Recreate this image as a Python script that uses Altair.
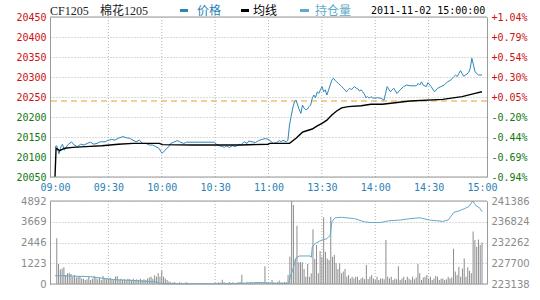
import altair as alt
import pandas as pd

# ---------------- data ----------------
time_ticks = [0, 30, 60, 90, 120, 150, 180, 210, 240]
time_labels = ["09:00", "09:30", "10:00", "10:30", "11:00", "13:30", "14:00", "14:30", "15:00"]

price_ticks = [20050, 20100, 20150, 20200, 20250, 20300, 20350, 20400, 20450]
base_price = 20240

vol_ticks = [0, 1223, 2446, 3669, 4892]
oi_ticks = [223138, 227700, 232262, 236824, 241386]

price_t = [0, 1, 2.2, 3.3, 4.2, 5.3, 7.1, 9.3, 10.8, 12.6,
           14.4, 16.3, 18.1, 19.9, 21.8, 23.6, 25.4, 28.2, 30.0, 31.9,
           33.7, 35.5, 38.3, 40.1, 41.9, 43.8, 45.6, 47.4, 49.3, 51.1,
           52.9, 54.8, 56.6, 58.4, 60.2, 62.1, 63.9, 65.0, 66.8, 68.7,
           70.5, 72.3, 74.1, 89.7, 90.6, 92.4, 94.3, 95.2, 96.1, 97.9,
           99.8, 101.6, 103.4, 104.4, 106.2, 108.0, 108.9, 110.8, 112.6, 114.4,
           116.3, 118.1, 119.9, 120.8, 122.6, 124.5, 126.3, 127.2, 128.1, 129.1,
           130.0, 130.9, 131.8, 132.7, 133.6, 134.6, 135.5, 136.4, 137.3, 138.2,
           139.1, 140.0, 141.0, 141.9, 142.8, 143.7, 144.6, 145.5, 146.4, 147.4,
           148.3, 149.2, 150.1, 151.0, 151.9, 152.8, 153.8, 154.7, 155.6, 156.5,
           157.4, 158.3, 159.3, 160.2, 161.1, 162.0, 162.9, 163.8, 164.8, 165.7,
           166.6, 167.5, 168.4, 169.3, 170.3, 171.2, 172.1, 173.0, 173.9, 174.8,
           175.7, 176.7, 177.6, 178.5, 179.4, 181.2, 183.1, 184.9, 185.8, 186.7,
           188.5, 190.4, 192.2, 194.0, 195.9, 197.7, 199.5, 203.2, 204.1, 205.0,
           206.0, 206.9, 208.7, 209.6, 211.4, 213.3, 215.1, 216.9, 218.8, 220.6,
           222.4, 224.2, 225.2, 226.1, 227.0, 227.9, 228.8, 229.7, 230.7, 232.5,
           233.4, 234.3, 235.2, 236.1, 238.0, 240.0]
price_v = [20125, 20128, 20108, 20125, 20132, 20117, 20130, 20138, 20130, 20126,
           20132, 20130, 20134, 20137, 20132, 20134, 20138, 20138, 20142, 20144,
           20142, 20147, 20151, 20148, 20147, 20142, 20138, 20142, 20134, 20134,
           20130, 20130, 20126, 20122, 20109, 20118, 20126, 20134, 20137, 20141,
           20137, 20134, 20137, 20137, 20132, 20128, 20126, 20124, 20128, 20124,
           20128, 20126, 20132, 20130, 20138, 20134, 20140, 20138, 20136, 20141,
           20144, 20146, 20144, 20141, 20134, 20136, 20141, 20138, 20142, 20140,
           20138, 20142, 20180, 20201, 20222, 20238, 20242, 20230, 20218, 20209,
           20230, 20222, 20218, 20220, 20226, 20230, 20247, 20255, 20248, 20263,
           20259, 20268, 20276, 20263, 20268, 20255, 20268, 20280, 20292, 20297,
           20292, 20288, 20284, 20280, 20276, 20272, 20268, 20263, 20268, 20272,
           20268, 20273, 20276, 20272, 20270, 20265, 20268, 20263, 20257, 20248,
           20251, 20247, 20251, 20248, 20247, 20248, 20247, 20242, 20259, 20276,
           20263, 20272, 20259, 20268, 20276, 20280, 20278, 20278, 20284, 20280,
           20288, 20280, 20276, 20286, 20276, 20263, 20272, 20276, 20280, 20288,
           20292, 20301, 20305, 20301, 20309, 20316, 20309, 20302, 20305, 20311,
           20322, 20347, 20330, 20313, 20305, 20305]

avg_t = [0, 0.6, 2.6, 5.5, 9.9, 17.2, 26.4, 35.5, 43.9, 58.6,
         60.4, 76.9, 89.5, 104.4, 119.7, 120.8, 131.8, 135.5, 139.1, 141.0,
         144.6, 147.4, 150.1, 152.8, 155.6, 158.3, 161.1, 164.8, 172.1, 177.6,
         184.0, 199.5, 217.9, 228.8, 236.1, 240.0]
avg_v = [20050, 20122, 20116, 20122, 20124, 20126, 20128, 20132, 20134, 20134,
         20131, 20130, 20130, 20130, 20132, 20134, 20134, 20147, 20162, 20165,
         20170, 20178, 20184, 20192, 20205, 20215, 20223, 20226, 20228, 20232,
         20232, 20240, 20244, 20251, 20259, 20263]

oi_t = [0, 4, 20, 33, 45, 53, 57, 58.5, 60, 80,
        100, 105, 115, 125, 131.4, 132.3, 133.6, 135.5, 137.3, 143.4,
        144.1, 144.6, 146.4, 150, 152.8, 154.7, 155.6, 157.4, 161, 168.4,
        173.9, 177.6, 183, 187, 194, 199.5, 205, 210.4, 218, 221,
        224.2, 227, 230.7, 232.8, 234.8, 236.7, 238.5, 240]
oi_v = [224960, 224960, 224740, 224100, 223900, 223650, 223600, 223300, 223180, 223180,
        223200, 223300, 223450, 223250, 223300, 224900, 226200, 228800, 229300, 229300,
        229000, 231300, 232100, 232800, 233100, 233900, 236800, 237700, 237800, 237500,
        236800, 236650, 236650, 237000, 237200, 237500, 237700, 237200, 236900, 237200,
        238900, 239200, 239800, 240200, 241386, 240300, 239950, 239050]

volume = [0, 2690, 1180, 860, 920, 980, 530, 630, 670, 590,
          430, 530, 390, 430, 470, 330, 310, 240, 280, 430,
          240, 310, 470, 390, 280, 390, 240, 470, 330, 280,
          310, 370, 240, 280, 430, 470, 240, 310, 240, 280,
          240, 310, 280, 200, 310, 240, 280, 240, 310, 240,
          280, 240, 330, 390, 430, 310, 510, 430, 630, 430,
          790, 430, 330, 240, 140, 100, 80, 120, 80, 60,
          100, 80, 60, 80, 100, 40, 40, 20, 40, 40,
          20, 40, 40, 20, 40, 20, 40, 40, 20, 40,
          80, 60, 100, 80, 250, 100, 80, 60, 120, 80,
          100, 60, 80, 100, 120, 550, 80, 60, 100, 80,
          120, 60, 80, 100, 120, 80, 100, 80, 1040, 100,
          120, 80, 240, 100, 80, 120, 200, 100, 80, 120,
          100, 530, 1600, 4892, 4650, 1500, 3430, 1280, 1280, 1280,
          880, 430, 1180, 430, 630, 3220, 1470, 2300, 630, 1940,
          1610, 3930, 1900, 1510, 1410, 3970, 1610, 1710, 1220, 880,
          1220, 630, 730, 880, 430, 530, 330, 430, 330, 430,
          430, 240, 330, 390, 280, 1120, 300, 430, 530, 330,
          240, 430, 240, 330, 330, 280, 2590, 430, 330, 430,
          240, 330, 280, 1040, 240, 330, 430, 240, 430, 330,
          240, 430, 280, 390, 1180, 630, 240, 390, 430, 530,
          330, 430, 240, 330, 470, 430, 240, 310, 330, 240,
          280, 430, 330, 390, 2080, 730, 530, 1020, 430, 920,
          1510, 430, 980, 780, 630, 3090, 2600, 2200, 2630, 2300,
          2450]

# ---------------- layout / style ----------------
W, H = 437, 267          # whole drawing area (both panels)
PH = 160                 # price panel height
VT, VB = 184, 267        # volume panel top / bottom
RED, GREEN = "#cc1111", "#117711"
C_PRICE, C_OI = "#2e86b8", "#63aac8"
GRID = "#b4b4b4"
FRAME = "#9a9a9a"
MONO = "DejaVu Sans Mono"
SANS = "DejaVu Sans"

price_df = pd.DataFrame({"t": price_t, "v": price_v})
avg_df = pd.DataFrame({"t": avg_t, "v": avg_v})
oi_df = pd.DataFrame({"t": oi_t, "oi": oi_v})
vol_df = pd.DataFrame({"t": list(range(len(volume))), "vol": volume})
grid_df = pd.DataFrame({"t": time_ticks[1:-1]})
one = pd.DataFrame({"a": [0]})

label_arr = "[" + ",".join(f"'{s}'" for s in time_labels) + "]"
X = alt.X("t:Q",
          scale=alt.Scale(domain=[0, 240], nice=False, zero=False),
          axis=alt.Axis(values=time_ticks, labelExpr=f"{label_arr}[round(datum.value/30)]",
                        orient="bottom", offset=-(H - PH), domain=False, ticks=False,
                        tickSize=0, grid=False, labelPadding=5, labelFont=MONO,
                        labelFontSize=10, labelColor="#2a7fb5", labelFlush=False,
                        labelOverlap=False, title=None))

price_scale = alt.Scale(domain=[20050, 20450], range=[PH, 0], nice=False, zero=False)
color_cond = {"condition": {"test": f"datum.value > {base_price}", "value": RED}, "value": GREEN}

left_price_axis = alt.Axis(orient="left", values=price_ticks, format="d", grid=True, gridColor=GRID,
                           gridDash=[1, 2], domain=True, domainColor=FRAME, ticks=False,
                           labelFont=MONO, labelFontSize=10, labelColor=color_cond,
                           labelPadding=4, labelOverlap=False, labelFlush=False, title=None)
pct_expr = (f"(datum.value < {base_price} ? '-' : '+') + "
            f"format(abs(datum.value / {base_price} - 1) * 100, '.2f') + '%'")
right_pct_axis = alt.Axis(orient="right", values=price_ticks, labelExpr=pct_expr, grid=False,
                          domain=True, domainColor=FRAME, ticks=False, labelFont=MONO,
                          labelFontSize=10, labelColor=color_cond, labelPadding=4,
                          labelOverlap=False, labelFlush=False, title=None)

vol_axis = alt.Axis(orient="left", values=vol_ticks, format="d", grid=True, gridColor=GRID,
                    gridDash=[1, 2], domain=True, domainColor=FRAME, ticks=False, labelFont=SANS,
                    labelFontSize=10, labelColor="#8a8a8a", labelPadding=4,
                    labelOverlap=False, labelFlush=False, title=None)
oi_axis = alt.Axis(orient="right", values=oi_ticks, format="d", grid=False, domain=True,
                   domainColor=FRAME, ticks=False, labelFont=SANS, labelFontSize=10,
                   labelColor="#8a8a8a", labelPadding=4, labelOverlap=False,
                   labelFlush=False, title=None)

# ---------------- layers ----------------
vgrid_top = alt.Chart(grid_df).mark_rule(color=GRID, strokeDash=[1, 2]).encode(
    x=X, y=alt.value(0), y2=alt.value(PH))
vgrid_bot = alt.Chart(grid_df).mark_rule(color=GRID, strokeDash=[1, 2]).encode(
    x=X, y=alt.value(VT), y2=alt.value(VB))

base_rule = alt.Chart(pd.DataFrame({"b": [base_price]})).mark_rule(
    color="#e3a030", strokeDash=[6, 4], strokeWidth=1).encode(
    y=alt.Y("b:Q", scale=price_scale, axis=right_pct_axis))

price_line = alt.Chart(price_df).mark_line(color=C_PRICE, strokeWidth=1).encode(
    x=X, y=alt.Y("v:Q", scale=price_scale, axis=left_price_axis))
avg_line = alt.Chart(avg_df).mark_line(color="#000000", strokeWidth=1.4).encode(
    x=X, y=alt.Y("v:Q", scale=price_scale, axis=None))

vol_bars = alt.Chart(vol_df).mark_bar(size=1, color="#8c8c8c").encode(
    x=X, y=alt.Y("vol:Q", scale=alt.Scale(domain=[0, 4892], range=[VB, VT], nice=False, zero=True),
                 axis=vol_axis))
oi_line = alt.Chart(oi_df).mark_line(color=C_OI, strokeWidth=1).encode(
    x=X, y=alt.Y("oi:Q", scale=alt.Scale(domain=[223138, 241386], range=[VB, VT], nice=False,
                                         zero=False), axis=oi_axis))


def hline(yv):
    return alt.Chart(one).mark_rule(color=FRAME, strokeWidth=1).encode(
        x=alt.value(0), x2=alt.value(W), y=alt.value(yv))


def txt(text, xv, color, font, size, yv=-6):
    return alt.Chart(one).mark_text(text=text, align="left", baseline="middle", font=font,
                                    fontSize=size, color=color).encode(
        x=alt.value(xv), y=alt.value(yv))


def dash(x1, x2, color):
    return alt.Chart(one).mark_rule(color=color, strokeWidth=3).encode(
        x=alt.value(x1), x2=alt.value(x2), y=alt.value(-6.5))


SERIF = "Liberation Serif, Noto Sans CJK SC"
CJK = "Noto Sans CJK SC"

chart = alt.layer(
    vgrid_top, vgrid_bot,
    base_rule, price_line, avg_line,
    vol_bars, oi_line,
    hline(0), hline(PH), hline(VT), hline(VB),
    txt("CF1205", 0, "#222222", SERIF, 12),
    txt("棉花1205", 50, "#222222", SERIF, 12),
    dash(130, 138, C_PRICE), txt("价格", 147, "#2a7fb5", CJK, 12),
    dash(191, 199, "#000000"), txt("均线", 203, "#000000", CJK, 12),
    dash(250, 259, C_OI), txt("持仓量", 265, C_OI, CJK, 12),
    txt("2011-11-02 15:00:00", 321, "#000000", MONO, 10),
).resolve_scale(y="independent").properties(
    width=W, height=H,
    autosize=alt.AutoSizeParams(type="none"),
    padding={"left": 50, "top": 17, "right": 53, "bottom": 16},
    background="white",
).configure_view(stroke=None)

chart.save("out.html", embed_options={"renderer": "svg", "actions": False})
